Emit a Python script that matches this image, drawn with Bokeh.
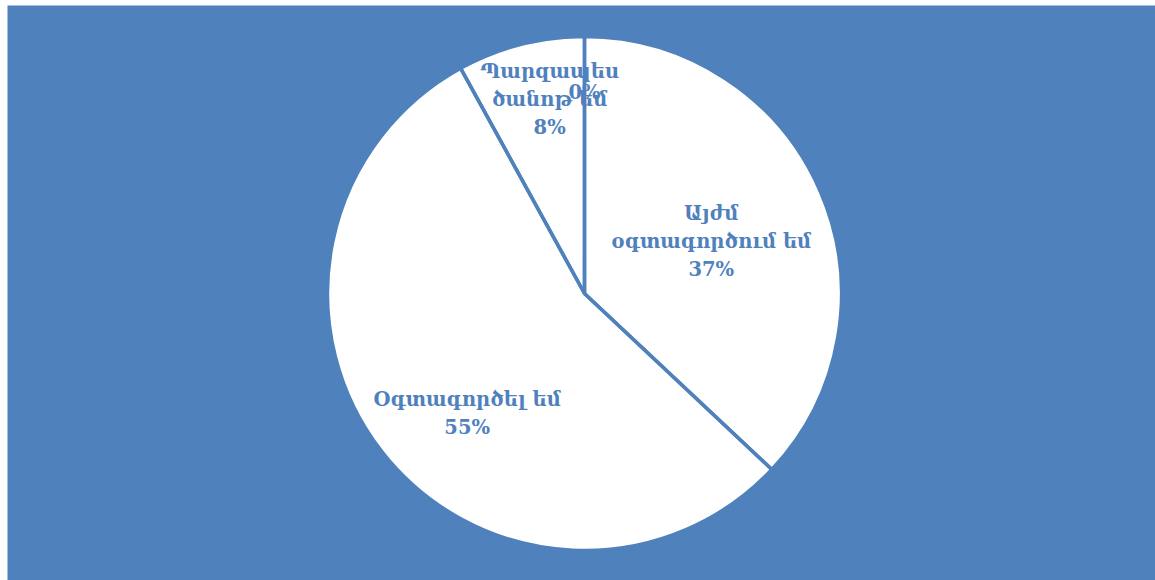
import math
from bokeh.plotting import figure
from bokeh.models import Range1d, ColumnDataSource
from bokeh.core.properties import value
from bokeh.embed import file_html
from bokeh.resources import INLINE

# Data
categories = ["Այժմ օգտագործում եմ", "Օգտագործել եմ", "Պարզապես ծանոթ եմ", ""]
shares = [37, 55, 8, 0]
pct_labels = ["37%", "55%", "8%", "0%"]
label_texts = ["Այժմ\nօգտագործում եմ\n37%", "Օգտագործել եմ\n55%", "Պարզապես\nծանոթ եմ\n8%", "0%"]

# Layout (pixel units)
W, H = 1155, 580
LEFT, TOP = 7, 5
CX, CY, R = 584, 580 - 293, 257
label_angle_deg = [67.7, 224.3, 349.8, 0.0]
label_radius = [137, 168, 197, 201]

BLUE = "#4F81BD"

total = float(sum(shares))
starts, ends, cats = [], [], []
cum = 0.0
for v, c in zip(shares, categories):
    s = math.pi / 2 - 2 * math.pi * cum / total
    cum += v
    e = math.pi / 2 - 2 * math.pi * cum / total
    if v > 0:
        starts.append(s)
        ends.append(e)
        cats.append(c)

src = ColumnDataSource(dict(x=[CX] * len(starts), y=[CY] * len(starts),
                            start=starts, end=ends, cat=cats))

p = figure(width=W, height=H, output_backend="svg", toolbar_location=None,
           x_range=Range1d(LEFT, W), y_range=Range1d(0, H - TOP),
           min_border=0, min_border_left=LEFT, min_border_right=0,
           min_border_top=TOP, min_border_bottom=0)
p.axis.visible = False
p.grid.visible = False
p.outline_line_color = None
p.background_fill_color = BLUE
p.border_fill_color = "white"

# fills
p.wedge(x="x", y="y", radius=R, start_angle="start", end_angle="end",
        direction="clock", source=src, fill_color="white", line_color=None)
# outlines on top
p.wedge(x="x", y="y", radius=R, start_angle="start", end_angle="end",
        direction="clock", source=src, fill_alpha=0,
        line_color=BLUE, line_width=3.5)

lx = [CX + r * math.sin(math.radians(a)) for a, r in zip(label_angle_deg, label_radius)]
ly = [CY + r * math.cos(math.radians(a)) for a, r in zip(label_angle_deg, label_radius)]
lsrc = ColumnDataSource(dict(x=lx, y=ly, t=label_texts))
p.text(x="x", y="y", text="t", source=lsrc, text_align="center",
       text_baseline="middle", text_color=BLUE,
       text_font=value("DejaVu Serif"), text_font_style="bold",
       text_font_size="19.5px", text_line_height=1.23)

open("out.html", "w").write(file_html(p, INLINE))
